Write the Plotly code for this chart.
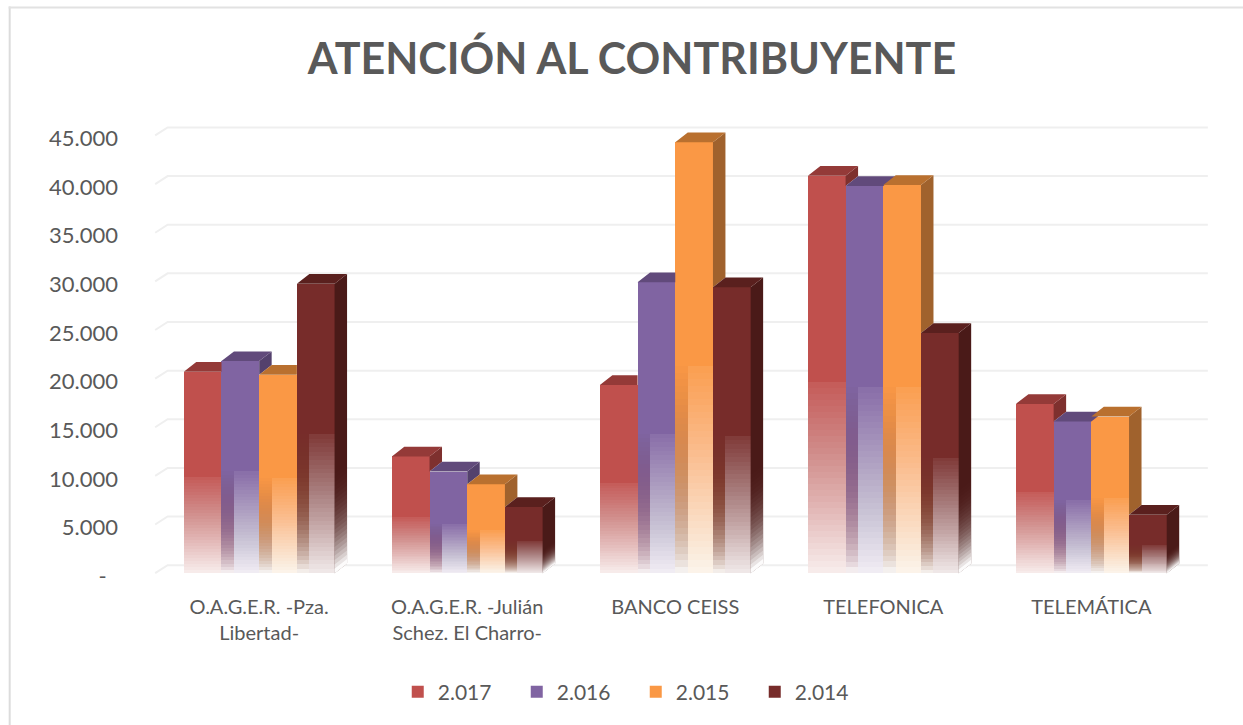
import plotly.graph_objects as go

categories = ["O.A.G.E.R. -Pza.<br>Libertad-", "O.A.G.E.R. -Julián<br>Schez. El Charro-", "BANCO CEISS", "TELEFONICA", "TELEMÁTICA"]
series_names = ["2.017", "2.016", "2.015", "2.014"]
v2017 = [20700, 12000, 19350, 40850, 17400]
v2016 = [21800, 10450, 29900, 39800, 15600]
v2015 = [20400, 9150, 44300, 39900, 16100]
v2014 = [29750, 6800, 29400, 24700, 6000]
tick_vals = [0, 5000, 10000, 15000, 20000, 25000, 30000, 35000, 40000, 45000]
tick_text = ["-\u00a0\u00a0", "5.000", "10.000", "15.000", "20.000", "25.000", "30.000", "35.000", "40.000", "45.000"]

front = ["#C0504D", "#8064A2", "#FA9845", "#772C2A"]
side = ["#7E302E", "#54416D", "#A0622D", "#4A1A18"]
side_rgb = [(126, 48, 46), (84, 65, 109), (160, 98, 45), (74, 26, 24)]
top = ["#943A38", "#614A7B", "#B9702F", "#5A201E"]

series = [v2017, v2016, v2015, v2014]
xs = list(range(len(categories)))
W = 0.1812      # bar width, category units
DX = 0.060      # depth, category units
DY = 1000       # bar depth, value units
GRID_DY = 820   # wall depth, value units
FADE = 0.48     # share of each bar that fades
STEPS = 32
A_TOP, A_BOT = 0.08, 0.90

W_PX, H_PX = 1243, 725
ML, MR, MT, MB = 151.3, 30.9, 116, 144.6
PW, PH = W_PX - ML - MR, H_PX - MT - MB


def paper_x(px):
    return (px - ML) / PW


def paper_y(py):
    return (H_PX - MB - py) / PH


fig = go.Figure()

# front faces, through the axes
for s, vals in enumerate(series):
    fig.add_trace(go.Bar(x=xs, y=vals, name=series_names[s], width=W, offset=(s - 2) * W,
                         marker=dict(color=front[s], line=dict(width=0))))

# the fade: stacked translucent bars
prev = 0.0
prev_s = 0.0
for k in range(STEPS):
    t = k / (STEPS - 1)
    A = A_TOP + (A_BOT - A_TOP) * t
    a = 1 - (1 - A) / (1 - prev)
    prev = A
    As = 0.94 * t ** 2.6
    a_s = 1 - (1 - As) / (1 - prev_s)
    prev_s = As
    f = FADE * (1 - k / STEPS)
    tint_a = 0.018
    for s, vals in enumerate(series):
        inset = DX if s > 0 else 0
        fig.add_trace(go.Bar(x=xs, y=[v * f for v in vals], width=W - inset,
                             offset=(s - 2) * W + inset, showlegend=False, hoverinfo="skip",
                             marker=dict(color=f"rgba(255,255,255,{a:.4f})", line=dict(width=0))))
        if s > 0:
            # left strip: the previous bar's side seen through the fade
            total = tint_a + a_s
            mix = [round((c * tint_a + 255 * a_s) / total) for c in side_rgb[s - 1]]
            fig.add_trace(go.Bar(x=xs, y=[v * f for v in vals], width=DX,
                                 offset=(s - 2) * W, showlegend=False, hoverinfo="skip",
                                 marker=dict(color=f"rgba({mix[0]},{mix[1]},{mix[2]},{total:.4f})",
                                             line=dict(width=0))))


def poly_trace(px, py, color):
    return go.Scatter(x=px, y=py, mode="lines", fill="toself", fillcolor=color,
                      line=dict(width=0, color=color), showlegend=False, hoverinfo="skip")


# side and top faces, derived from the values
for s, vals in enumerate(series):
    nxt = series[s + 1] if s < 3 else None
    sx, sy, tx, ty = [], [], [], []
    for i, v in enumerate(vals):
        x0 = i + (s - 2) * W
        x1 = x0 + W
        n = nxt[i] if nxt else 0
        if v > n:
            sx += [x1, x1 + DX, x1 + DX, x1, None]
            sy += [n, n + DY, v + DY, v, None]
        if nxt and n >= v + DY:
            tx += [x0, x0 + DX, x1, x1, None]
            ty += [v, v + DY, v + DY, v, None]
        else:
            tx += [x0, x0 + DX, x1 + DX, x1, None]
            ty += [v, v + DY, v + DY, v, None]
    fig.add_trace(poly_trace(sx, sy, side[s]))
    fig.add_trace(poly_trace(tx, ty, top[s]))

# fade on the free side of the last bars
prev = 0.0
for k in range(STEPS):
    A = 0.985 * (k / (STEPS - 1)) ** 3
    a = 1 - (1 - A) / (1 - prev)
    prev = A
    f = FADE * (1 - k / STEPS)
    sx, sy = [], []
    for i, v in enumerate(series[3]):
        x1 = i + 2 * W
        sx += [x1, x1 + DX, x1 + DX, x1, None]
        sy += [0, DY, DY + v * f, v * f, None]
    fig.add_trace(poly_trace(sx, sy, f"rgba(255,255,255,{a:.4f})"))

# grid on the back wall, with its slanted return on the side wall
shapes = []
XL, XR = -0.5, 4.5
for t in tick_vals:
    shapes.append(dict(type="path", xref="x", yref="y", layer="below",
                       path=f"M {XL} {t} L {XL + DX} {t + GRID_DY} L {XR + DX} {t + GRID_DY}",
                       line=dict(color="#EFEFEF", width=2)))
# chart frame, running off the bottom and right of the page
shapes.append(dict(type="line", xref="paper", yref="paper", layer="below",
                   x0=paper_x(10), x1=paper_x(10), y0=paper_y(6), y1=paper_y(H_PX + 5),
                   line=dict(color="#DCDCDC", width=2)))
shapes.append(dict(type="line", xref="paper", yref="paper", layer="below",
                   x0=paper_x(9), x1=paper_x(W_PX + 5), y0=paper_y(7), y1=paper_y(7),
                   line=dict(color="#E2E2E2", width=2)))

fig.update_layout(
    width=W_PX, height=H_PX, autosize=False,
    margin=dict(l=ML, r=MR, t=MT, b=MB),
    paper_bgcolor="white", plot_bgcolor="white",
    barmode="overlay", shapes=shapes,
    font=dict(family="Lato", color="#595959", size=20),
    title=dict(text="<b>ATENCIÓN AL CONTRIBUYENTE</b>", xref="container", yref="container",
               x=632 / W_PX, y=1 - 59 / H_PX, xanchor="center", yanchor="middle",
               font=dict(family="Lato", size=43, color="#595959")),
    xaxis=dict(range=[-0.52, 4.58], tickmode="array", tickvals=xs, ticktext=categories,
               showgrid=False, zeroline=False, showline=False, ticks="", ticklabelstandoff=15,
               tickfont=dict(size=20, color="#595959")),
    yaxis=dict(range=[-500, 47000], tickmode="array", tickvals=tick_vals, ticktext=tick_text,
               showgrid=False, zeroline=False, showline=False, ticks="", ticklabelstandoff=32,
               ticklabelshift=3, tickfont=dict(size=22, color="#595959")),
    legend=dict(orientation="h", x=paper_x(398), y=paper_y(695), xanchor="left", yanchor="middle",
                entrywidth=74, entrywidthmode="pixels", font=dict(size=21, color="#595959"),
                traceorder="normal"),
    bargap=0,
)
fig.write_html("out.html", config={"displayModeBar": False},
               post_script="document.body.style.margin='0';document.body.style.overflow='hidden';")
